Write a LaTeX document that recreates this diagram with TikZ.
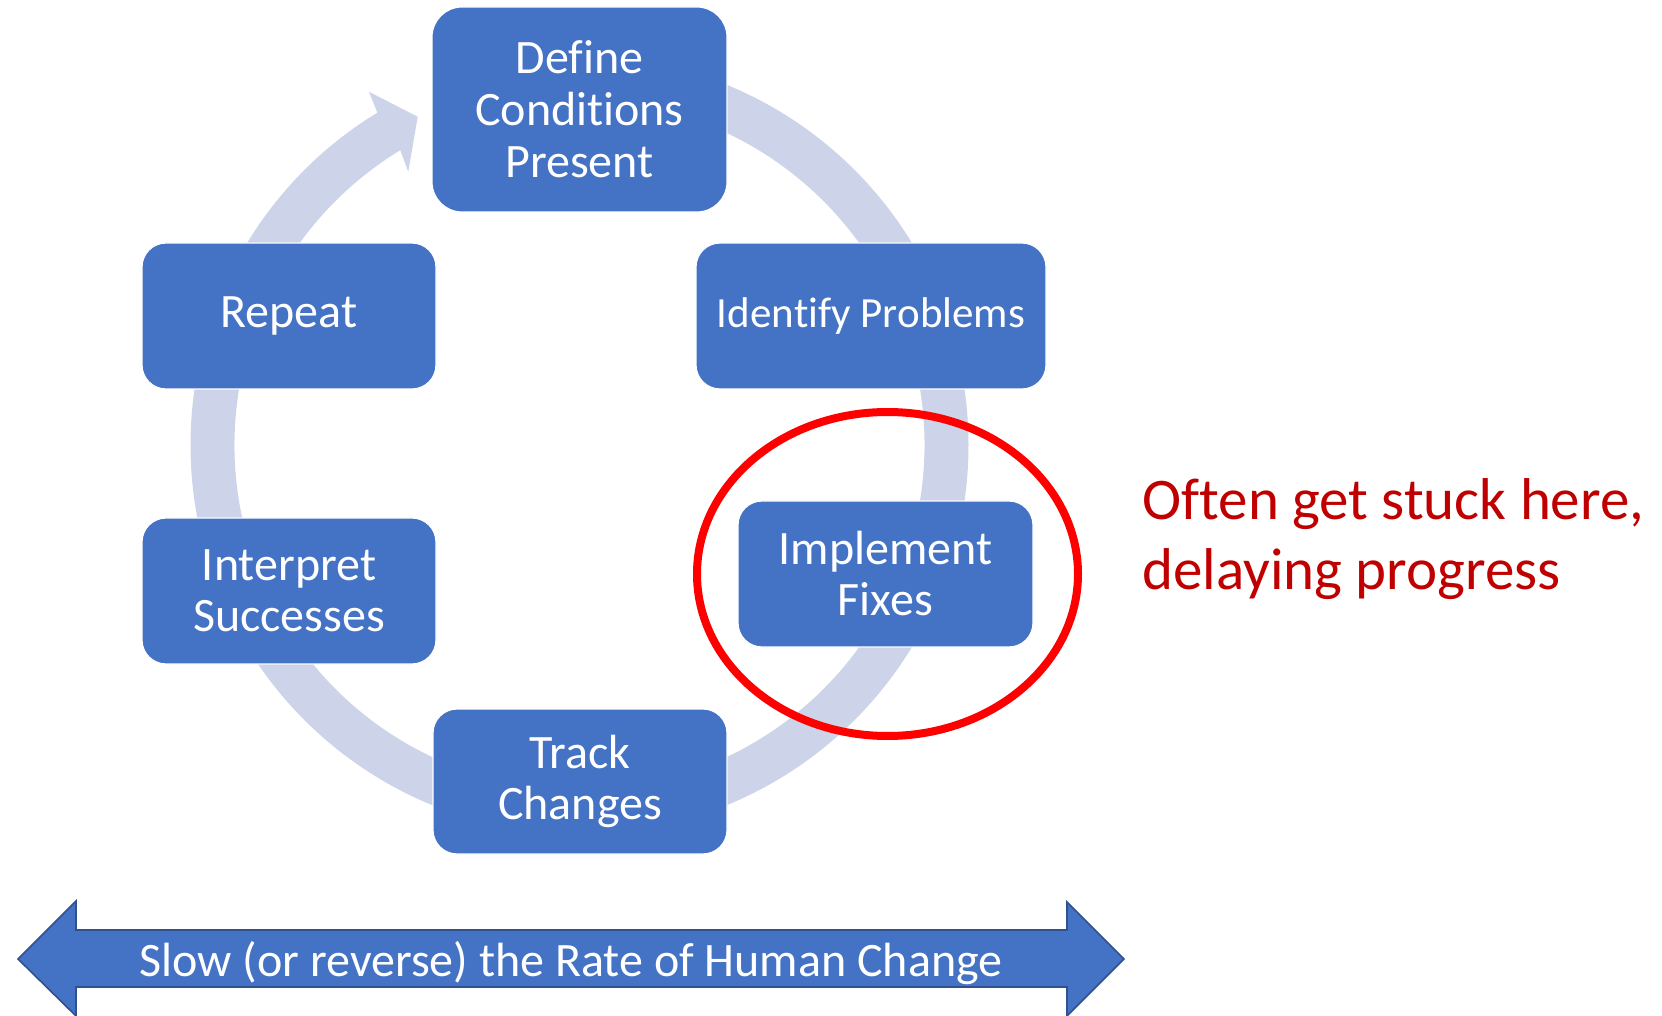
\documentclass[tikz,border=0pt]{standalone}
\usepackage{fontspec}
\setmainfont[Ligatures=CommonOff]{Carlito}
\definecolor{boxblue}{HTML}{4472C4}
\definecolor{boxedge}{HTML}{2F528F}
\definecolor{ringc}{HTML}{CDD4E9}
\definecolor{darkred}{HTML}{C00000}
\definecolor{brightred}{HTML}{FF0000}
\begin{document}
\begin{tikzpicture}[x=0.5pt,y=0.5pt,
  stepbox/.style={fill=boxblue, draw=white, line width=0.6pt, rounded corners=12pt,
    inner sep=0pt, align=center, text=white, font=\fontsize{24}{25.5}\selectfont},
  bigbox/.style={stepbox, rounded corners=15pt, font=\fontsize{24}{26}\selectfont}]
\useasboundingbox (0,0) rectangle (1662,-1016);

% circular arrow (ring)
\begin{scope}[shift={(579.5,-445)}]
\fill[ringc] (90:194.5pt) arc[start angle=90, end angle=-238.7, radius=194.5pt]
  -- (-239.2:205.65pt) -- (-243.76:183pt) -- (-237.93:161.25pt)
  -- (-238.7:172.5pt) arc[start angle=-238.7, end angle=90, radius=172.5pt] -- cycle;
\end{scope}

% boxes
\node[bigbox, minimum width=147.5pt, minimum height=102.5pt] (define) at (579.5,-109.5) {Define\\Conditions\\Present};
\node[stepbox, minimum width=175pt, minimum height=73pt, font=\fontsize{21.5}{25}\selectfont] (identify) at (871,-316) {Identify Problems};
\node[stepbox, minimum width=147pt, minimum height=73pt] (repeat) at (289,-316) {Repeat};
\node[stepbox, minimum width=147.5pt, minimum height=73pt] (implement) at (885.5,-574) {Implement\\Fixes};
\node[stepbox, minimum width=147pt, minimum height=73pt] (interpret) at (289,-591) {Interpret\\Successes};
\node[stepbox, minimum width=147pt, minimum height=72.5pt] (track) at (580,-781.5) {Track\\Changes};

% red highlight ellipse
\draw[brightred, line width=4pt] (887.5,-574) ellipse[x radius=95.25pt, y radius=81pt];

% note
\node[anchor=base west, inner sep=0pt, align=left, text=darkred,
  font=\fontsize{29.5}{35}\selectfont] (note) at (1142,-589) {Often get stuck here,\\delaying progress};

% double arrow
\filldraw[fill=boxblue, draw=boxedge, line width=0.8pt, line join=miter]
  (18,-959) -- (76,-901) -- (76,-930) -- (1067,-930) -- (1067,-902) -- (1124,-959)
  -- (1067,-1016) -- (1067,-987) -- (76,-987) -- (76,-1016) -- cycle;
\node[anchor=base, inner sep=0pt, text=white, font=\fontsize{24}{29}\selectfont]
  (rate) at (571,-976) {Slow (or reverse) the Rate of Human Change};
\end{tikzpicture}
\end{document}
